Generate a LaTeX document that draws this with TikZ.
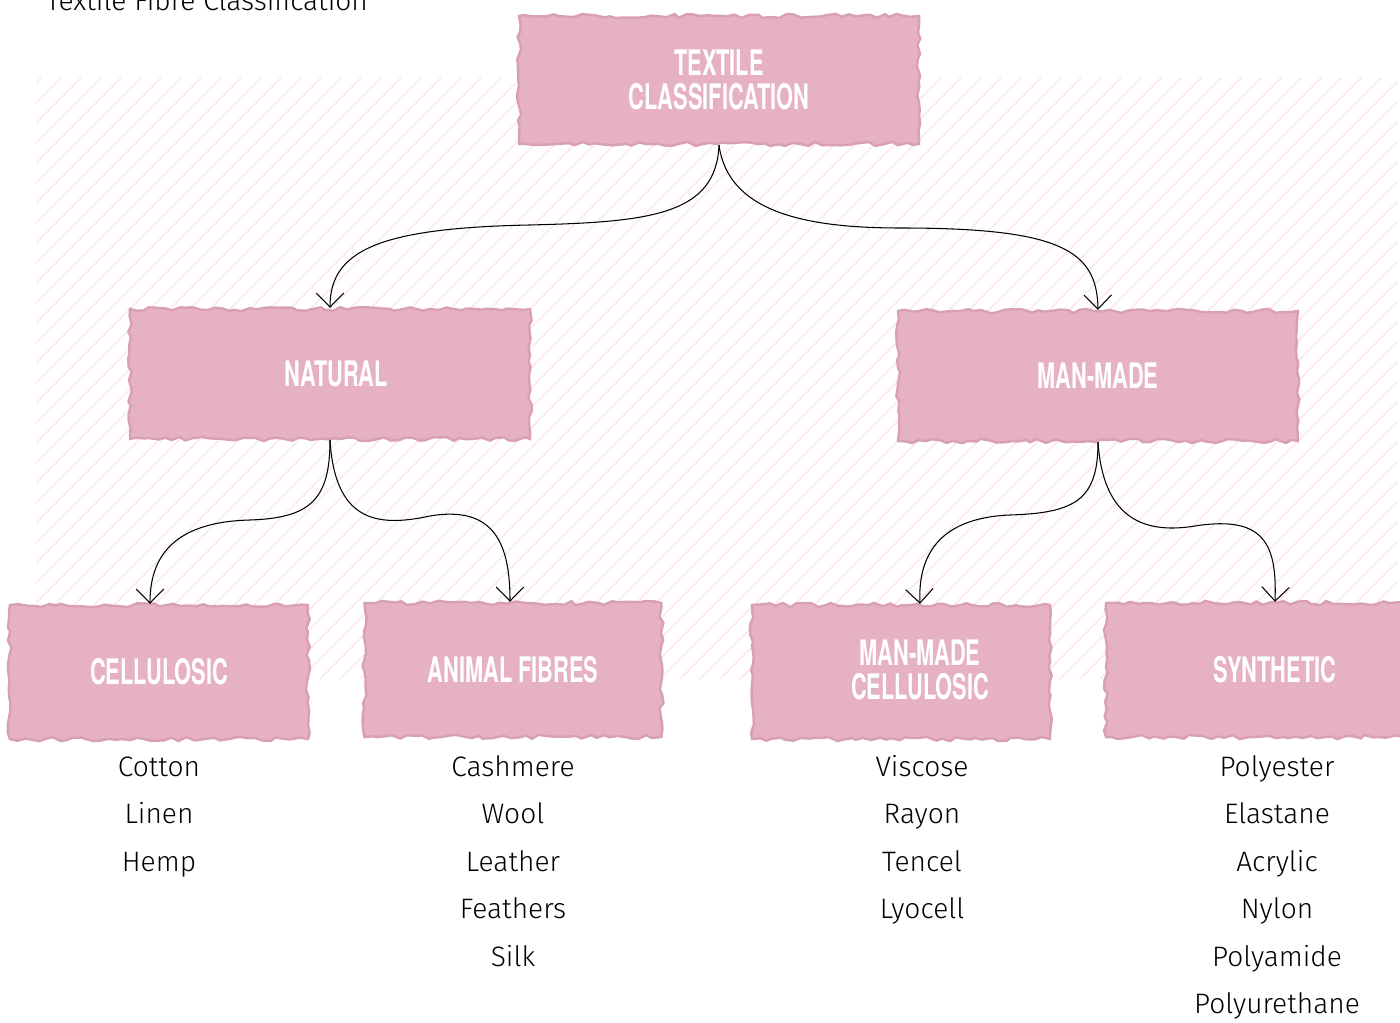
\documentclass[tikz,border=0pt]{standalone}
\usepackage{fontspec}
\usetikzlibrary{decorations.pathmorphing,arrows.meta}
\newfontfamily\headfont[FakeStretch=0.62]{texgyreheros-bold.otf}
\newfontfamily\handfont{Fira Sans Light}
\definecolor{boxpink}{HTML}{E6B2C3}
\definecolor{boxedge}{HTML}{D9A0B4}
\definecolor{hatchpink}{HTML}{FBE4EB}
\begin{document}
\begin{tikzpicture}[x=0.02cm,y=-0.02cm,
  torn/.style={fill=boxpink, draw=boxedge, line width=1.4pt, decorate,
    decoration={random steps, segment length=4pt, amplitude=1.2pt}, inner sep=0pt},
  head/.style={text=white, font=\headfont\fontsize{20}{19}\selectfont, align=center},
  item/.style={font=\handfont\fontsize{16}{18}\selectfont, anchor=base},
  conn/.style={line width=0.6pt, -{Straight Barb[length=0.28cm,width=0.55cm]}}]
\useasboundingbox (0,0) rectangle (1400,1023);
\fill[white] (0,0) rectangle (1400,1023);
% hatched background
\begin{scope}
\clip (36,78) rectangle (1397,679);
\foreach \k in {-620,-600,...,1400} \draw[hatchpink, line width=0.8pt] (\k,679) -- ++(601,-601);
\end{scope}
% title
\node[font=\handfont\fontsize{16}{18}\selectfont, anchor=base west] (title) at (40,11) {Textile Fibre Classification};
% boxes
\node[torn, head, minimum width=8cm, minimum height=2.56cm] (top) at (719,80) {TEXTILE\\CLASSIFICATION};
\node[torn, head, minimum width=8cm, minimum height=2.6cm] (nat) at (330,374) {\hspace*{0.25cm}NATURAL};
\node[torn, head, minimum width=8cm, minimum height=2.6cm] (mm) at (1098,376) {MAN-MADE};
\node[torn, head, minimum width=5.96cm, minimum height=2.68cm] (cel) at (159,672) {CELLULOSIC};
\node[torn, head, minimum width=5.94cm, minimum height=2.68cm] (ani) at (513,670) {ANIMAL FIBRES};
\node[torn, minimum width=5.96cm, minimum height=2.68cm] (mmc) at (901,672) {};
\node[head] (mmct) at (920,670) {MAN-MADE\\CELLULOSIC};
\node[torn, minimum width=5.96cm, minimum height=2.68cm] (syn) at (1255,670) {};
\node[head] (synt) at (1275,670) {SYNTHETIC};
% connectors
\draw[conn] (top.south) .. controls (716,215) and (650,222) .. (530,225) .. controls (380,228) and (330,250) .. (nat.north);
\draw[conn] (top.south) .. controls (728,210) and (800,228) .. (900,228) .. controls (1060,228) and (1097,250) .. (mm.north);
\draw[conn] (nat.south) .. controls (330,500) and (310,518) .. (250,520) .. controls (170,522) and (150,560) .. ([xshift=-0.18cm]cel.north);
\draw[conn] (nat.south) .. controls (335,520) and (375,528) .. (430,516) .. controls (495,505) and (510,545) .. ([xshift=-0.06cm]ani.north);
\draw[conn] (mm.south) .. controls (1098,500) and (1075,513) .. (1010,515) .. controls (935,518) and (918,560) .. (mmct |- mmc.north);
\draw[conn] (mm.south) .. controls (1103,515) and (1140,535) .. (1195,526) .. controls (1265,515) and (1277,545) .. (synt |- syn.north);
% items
\node[item] (c1) at (159,776) {Cotton};
\node[item] (c2) at (159,823) {Linen};
\node[item] (c3) at (159,871) {Hemp};
\node[item] (a1) at (513,776) {Cashmere};
\node[item] (a2) at (513,823) {Wool};
\node[item] (a3) at (513,871) {Leather};
\node[item] (a4) at (513,918) {Feathers};
\node[item] (a5) at (513,966) {Silk};
\node[item] (m1) at (922,776) {Viscose};
\node[item] (m2) at (922,823) {Rayon};
\node[item] (m3) at (922,871) {Tencel};
\node[item] (m4) at (922,918) {Lyocell};
\node[item] (s1) at (1277,776) {Polyester};
\node[item] (s2) at (1277,823) {Elastane};
\node[item] (s3) at (1277,871) {Acrylic};
\node[item] (s4) at (1277,918) {Nylon};
\node[item] (s5) at (1277,966) {Polyamide};
\node[item] (s6) at (1277,1013) {Polyurethane};
\end{tikzpicture}
\end{document}
